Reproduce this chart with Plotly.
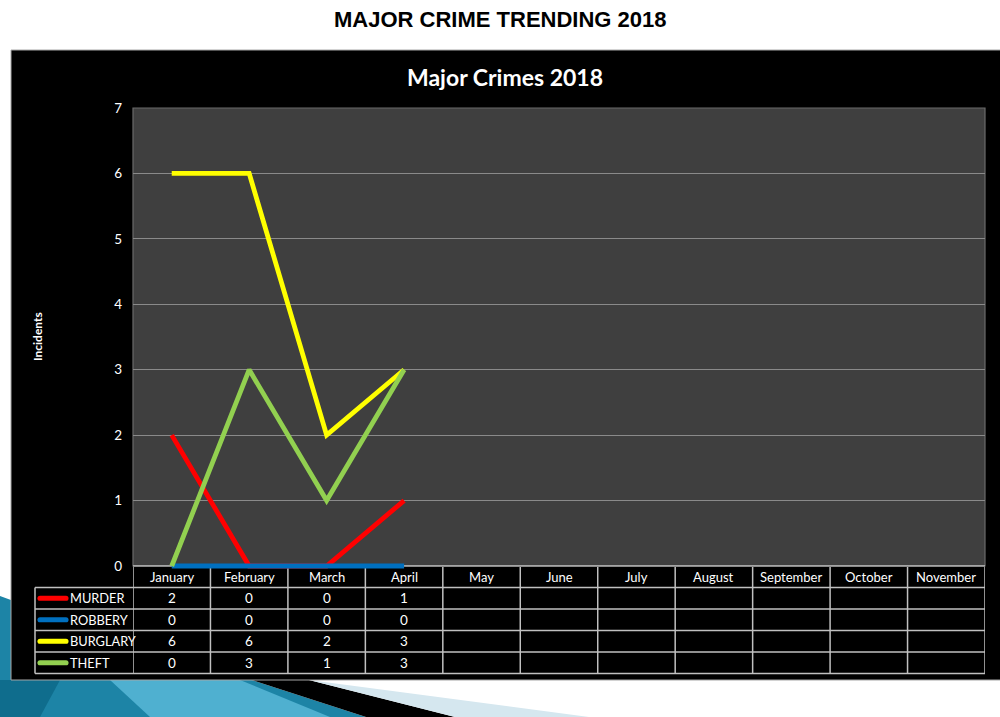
import plotly.graph_objects as go

# ---- data -------------------------------------------------------------
months = ["January", "February", "March", "April", "May", "June",
          "July", "August", "September", "October", "November"]
series_names = ["MURDER", "ROBBERY", "BURGLARY", "THEFT"]
murder = [2, 0, 0, 1]
robbery = [0, 0, 0, 0]
burglary = [6, 6, 2, 3]
theft = [0, 3, 1, 3]
series_colors = ["#ff0000", "#0070c0", "#ffff00", "#92d050"]
y_ticks = [0, 1, 2, 3, 4, 5, 6, 7]

series_values = [murder, robbery, burglary, theft]

# ---- page geometry (pixels) ------------------------------------------
W, H = 1000, 717
def px(x):
    return x / W
def py(y):
    return 1 - y / H

plot_left, plot_right = 133, 985
plot_top, plot_zero = 108, 566
y_min, y_max = -0.05, 7
unit = (plot_zero - plot_top) / (y_max - 0)
plot_bottom = plot_zero - y_min * unit

row_lines = [566, 587.5, 609, 630.5, 652, 673.5]
table_left = 35

TEXT_FONT = "Lato, Calibri, Carlito, sans-serif"

fig = go.Figure()

for name, vals, col in zip(series_names, series_values, series_colors):
    fig.add_trace(go.Scatter(
        x=months[:len(vals)], y=vals, mode="lines", name=name,
        line=dict(color=col, width=4.8), showlegend=False,
        cliponaxis=False,
    ))

shapes = []
# blue decorative swoosh in the lower left corner
shapes.append(dict(type="path", xref="paper", yref="paper", layer="below",
                   path=f"M {px(0)},{py(596)} L {px(120)},{py(640)} L {px(252)},{py(680)} "
                        f"L {px(366)},{py(717)} L {px(0)},{py(717)} Z",
                   fillcolor="#1d84a6", line=dict(width=0)))
shapes.append(dict(type="path", xref="paper", yref="paper", layer="below",
                   path=f"M {px(110)},{py(680)} L {px(240)},{py(680)} L {px(330)},{py(717)} "
                        f"L {px(150)},{py(717)} Z",
                   fillcolor="#4fb0d0", line=dict(width=0)))
shapes.append(dict(type="path", xref="paper", yref="paper", layer="below",
                   path=f"M {px(0)},{py(680)} L {px(60)},{py(680)} L {px(40)},{py(717)} "
                        f"L {px(0)},{py(717)} Z",
                   fillcolor="#0f6d8d", line=dict(width=0)))
# black stripe and pale blue wedge beside it
shapes.append(dict(type="path", xref="paper", yref="paper", layer="below",
                   path=f"M {px(252)},{py(680)} L {px(309)},{py(680)} L {px(455)},{py(717)} "
                        f"L {px(366)},{py(717)} Z",
                   fillcolor="#000000", line=dict(width=0)))
shapes.append(dict(type="path", xref="paper", yref="paper", layer="below",
                   path=f"M {px(309)},{py(680)} L {px(589)},{py(717)} L {px(455)},{py(717)} Z",
                   fillcolor="#d5e7ef", line=dict(width=0)))
# black chart panel
shapes.append(dict(type="rect", xref="paper", yref="paper", layer="below",
                   x0=px(11), x1=px(1001), y0=py(680), y1=py(50),
                   fillcolor="#000000", line=dict(color="#a6a6a6", width=1)))
# plot area
shapes.append(dict(type="rect", xref="paper", yref="paper", layer="below",
                   x0=px(plot_left), x1=px(plot_right), y0=py(plot_zero), y1=py(plot_top),
                   fillcolor="#3f3f3f", line=dict(color="#6a6a6a", width=1.2)))

grid_col = "#c0c0c0"
# horizontal table rules
for i, yy in enumerate(row_lines):
    x_start = px(plot_left) if i == 0 else px(table_left)
    shapes.append(dict(type="line", xref="paper", yref="paper", layer="below",
                       x0=x_start, x1=px(plot_right), y0=py(yy), y1=py(yy),
                       line=dict(color=grid_col, width=1.5)))
# vertical table rules at category boundaries
for k in range(len(months) + 1):
    shapes.append(dict(type="line", xref="x", yref="paper", layer="below",
                       x0=k - 0.5, x1=k - 0.5, y0=py(row_lines[0]), y1=py(row_lines[-1]),
                       line=dict(color=grid_col, width=1.5)))
shapes.append(dict(type="line", xref="paper", yref="paper", layer="below",
                   x0=px(table_left), x1=px(table_left),
                   y0=py(row_lines[1]), y1=py(row_lines[-1]),
                   line=dict(color=grid_col, width=1.5)))


def key_path(x0, x1, yc, r):
    """Rounded bar used as a legend key inside the table."""
    k = 1.33 * r
    return (f"M {px(x0)},{py(yc - r)} L {px(x1)},{py(yc - r)} "
            f"C {px(x1 + k)},{py(yc - r)} {px(x1 + k)},{py(yc + r)} {px(x1)},{py(yc + r)} "
            f"L {px(x0)},{py(yc + r)} "
            f"C {px(x0 - k)},{py(yc + r)} {px(x0 - k)},{py(yc - r)} {px(x0)},{py(yc - r)} Z")


annotations = []
# table header
for m in months:
    annotations.append(dict(x=m, xref="x", y=py((row_lines[0] + row_lines[1]) / 2), yref="paper",
                            text=m, showarrow=False, xanchor="center", yanchor="middle",
                            font=dict(family=TEXT_FONT, size=13, color="white")))
# table body with legend keys
for r, (name, vals, col) in enumerate(zip(series_names, series_values, series_colors)):
    yc = (row_lines[r + 1] + row_lines[r + 2]) / 2
    shapes.append(dict(type="path", xref="paper", yref="paper", layer="above",
                       path=key_path(40, 66, yc, 2.6),
                       fillcolor=col, line=dict(width=0)))
    annotations.append(dict(x=px(68), xref="paper", y=py(yc), yref="paper",
                            text=name, showarrow=False, xanchor="left", yanchor="middle",
                            font=dict(family=TEXT_FONT, size=12.8, color="white")))
    for m, v in zip(months, vals):
        annotations.append(dict(x=m, xref="x", y=py(yc), yref="paper",
                                text=str(v), showarrow=False, xanchor="center", yanchor="middle",
                                font=dict(family=TEXT_FONT, size=13.5, color="white")))

# titles
annotations.append(dict(x=0.5, xref="paper", y=py(20), yref="paper",
                        text="<b>MAJOR CRIME TRENDING 2018</b>", showarrow=False,
                        xanchor="center", yanchor="middle",
                        font=dict(family="Liberation Sans Narrow, Arial Narrow, Liberation Sans, Arial",
                                  size=22, color="black")))
annotations.append(dict(x=px(505), xref="paper", y=py(77), yref="paper",
                        text="<b>Major Crimes 2018</b>", showarrow=False,
                        xanchor="center", yanchor="middle",
                        font=dict(family=TEXT_FONT, size=23, color="white")))
annotations.append(dict(x=px(38), xref="paper", y=py(337), yref="paper",
                        text="<b>Incidents</b>", showarrow=False, textangle=-90,
                        xanchor="center", yanchor="middle",
                        font=dict(family=TEXT_FONT, size=12, color="white")))

fig.update_layout(
    width=W, height=H,
    margin=dict(l=0, r=0, t=0, b=0, pad=0, autoexpand=False),
    paper_bgcolor="white",
    plot_bgcolor="rgba(0,0,0,0)",
    shapes=shapes,
    annotations=annotations,
    xaxis=dict(domain=[px(plot_left), px(plot_right)], type="category",
               categoryorder="array", categoryarray=months, automargin=False,
               range=[-0.5, len(months) - 0.5], showticklabels=False,
               showgrid=False, zeroline=False, showline=False, ticks=""),
    yaxis=dict(domain=[py(plot_bottom), py(plot_top)], range=[y_min, y_max],
               tickvals=y_ticks, ticks="", ticklabelstandoff=10, automargin=False,
               tickfont=dict(family=TEXT_FONT, size=13.5, color="white"),
               showgrid=True, gridcolor="#8a8a8a", gridwidth=1,
               zeroline=False, showline=False),
)

fig.write_html("out.html")
